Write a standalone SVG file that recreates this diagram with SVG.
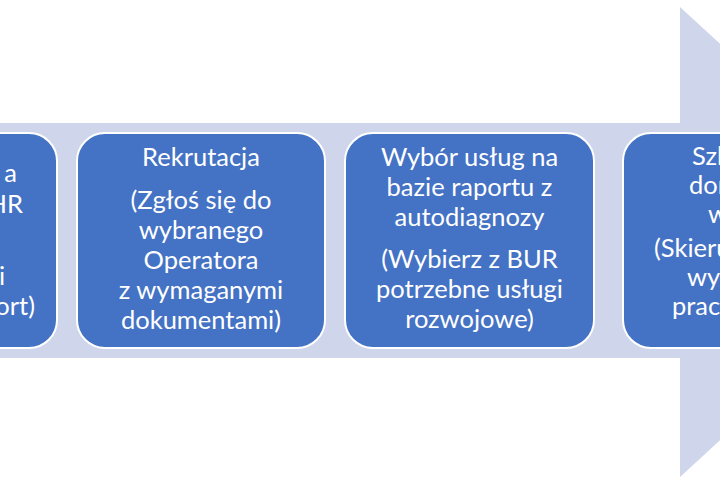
<svg xmlns="http://www.w3.org/2000/svg" width="720" height="482" viewBox="0 0 720 482">
<style>
.box{fill:#4472C4;stroke:#FFFFFF;stroke-width:2}
.t{font-family:Lato,"Open Sans","DejaVu Sans",sans-serif;font-size:25.5px;fill:#FFFFFF}
.c{text-anchor:middle}
.e{text-anchor:end}
</style>
<rect width="720" height="482" fill="#FFFFFF"/>
<g id="arrow">
<polygon points="-10,123 680,123 680,7 935,242 680,477 680,358 -10,358" fill="#CFD5EA"/>
</g>
<g id="connectors"></g>
<g id="node1">
<rect class="box" x="-192" y="133" width="249" height="215" rx="28" ry="28"/>
<text class="t e" x="17" y="182">a</text>
<text class="t e" x="23" y="213">HR</text>
<text class="t e" x="5" y="285">i</text>
<text class="t e" x="35" y="315">ort)</text>
</g>
<g id="node2">
<rect class="box" x="77" y="133" width="248" height="215" rx="28" ry="28"/>
<text class="t c" x="201" y="166">Rekrutacja</text>
<text class="t c" x="201" y="209">(Zgłoś się do</text>
<text class="t c" x="201" y="239">wybranego</text>
<text class="t c" x="201" y="269">Operatora</text>
<text class="t c" x="201" y="299">z wymaganymi</text>
<text class="t c" x="201" y="329">dokumentami)</text>
</g>
<g id="node3">
<rect class="box" x="345" y="133" width="249" height="215" rx="28" ry="28"/>
<text class="t c" x="469.5" y="166">Wybór usług na</text>
<text class="t c" x="469.5" y="196">bazie raportu z</text>
<text class="t c" x="469.5" y="226">autodiagnozy</text>
<text class="t c" x="469.5" y="268">(Wybierz z BUR</text>
<text class="t c" x="469.5" y="298">potrzebne usługi</text>
<text class="t c" x="469.5" y="328">rozwojowe)</text>
</g>
<g id="node4">
<rect class="box" x="623" y="133" width="249" height="215" rx="28" ry="28"/>
<text class="t" x="692" y="165">Szk</text>
<text class="t" x="689" y="194">dor</text>
<text class="t" x="708" y="223">w</text>
<text class="t" x="654" y="257">(Skieru</text>
<text class="t" x="687" y="286">wy</text>
<text class="t" x="672" y="315">prac</text>
</g>
</svg>
